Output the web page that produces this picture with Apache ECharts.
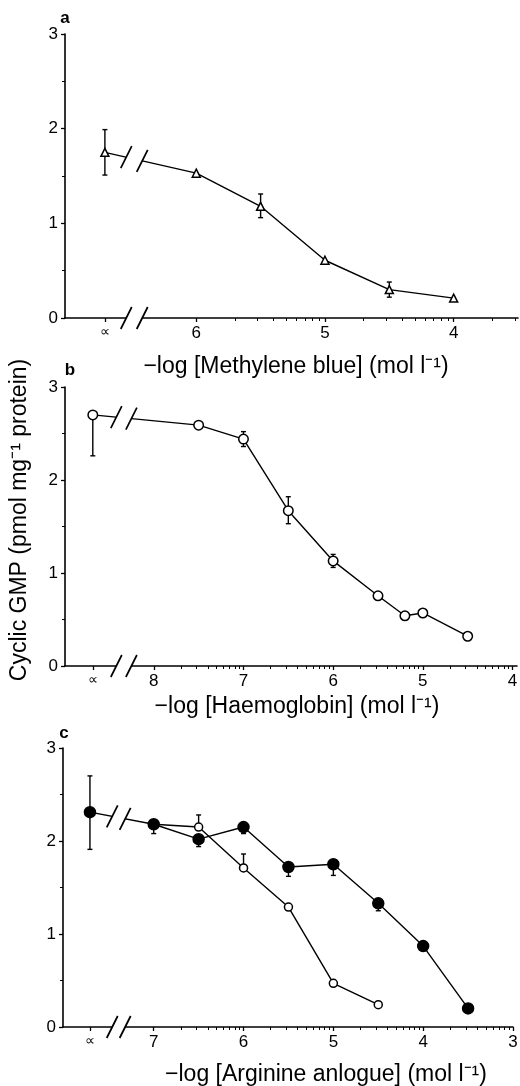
<!DOCTYPE html>
<html>
<head>
<meta charset="utf-8">
<script src="https://cdn.jsdelivr.net/npm/echarts@6/dist/echarts.min.js"></script>
<style>
  html, body { margin: 0; padding: 0; background: #fff; }
  #chart { width: 520px; height: 1086px; }
</style>
</head>
<body>
<div id="chart"></div>
<script>
// x position used for the "∝" (control) point in each panel
const ctrlA = 6.71;
const ctrlB = 8.68;
const ctrlC = 7.71;

// a: methylene blue
const mbX = [ctrlA, 6, 5.5, 5, 4.5, 4];
const mbY = [1.75, 1.53, 1.18, 0.61, 0.30, 0.21];
const mbErr = [[1.51, 1.99], null, [1.06, 1.31], null, [0.22, 0.38], null];

// b: haemoglobin
const hbX = [ctrlB, 7.5, 7, 6.5, 6, 5.5, 5.2, 5, 4.5];
const hbY = [2.70, 2.59, 2.44, 1.67, 1.13, 0.755, 0.54, 0.57, 0.32];
const hbErr = [[2.26, 2.70], null, [2.36, 2.52], [1.53, 1.82], [1.06, 1.20], null, null, null, null];

// c: arginine analogues (filled and open)
const argFX = [ctrlC, 7, 6.5, 6, 5.5, 5, 4.5, 4, 3.5];
const argFY = [2.31, 2.18, 2.02, 2.15, 1.72, 1.75, 1.33, 0.87, 0.20];
const argFErr = [[1.91, 2.70], [2.08, 2.18], [1.94, 2.02], [2.08, 2.15], [1.62, 1.72], [1.63, 1.75], [1.25, 1.33], null, null];
const argOX = [7, 6.5, 6, 5.5, 5, 4.5];
const argOY = [2.18, 2.15, 1.71, 1.29, 0.47, 0.24];
const argOErr = [null, [2.15, 2.28], [1.71, 1.86], null, null, null];

// tick labels
const ticksA = [6, 5, 4];
const ticksB = [8, 7, 6, 5, 4];
const ticksC = [7, 6, 5, 4, 3];

const FONT = '"Liberation Sans", Arial, sans-serif';

const panels = [
  { letter: 'a', grid: { left: 65, top: 34, width: 453, height: 284 }, min: 3.5, max: 7.02,
    ticks: ticksA, ctrl: ctrlA, brk: [6.544, 6.42],
    title: '\u2212log [Methylene blue] (mol l\u207B\u00B9)', titleX: 296, titleY: 367, letterPos: [65, 18] },
  { letter: 'b', grid: { left: 65, top: 387, width: 452, height: 279 }, min: 3.95, max: 8.99,
    ticks: ticksB, ctrl: ctrlB, brk: [8.418, 8.25],
    title: '\u2212log [Haemoglobin] (mol l\u207B\u00B9)', titleX: 297, titleY: 707, letterPos: [70, 370] },
  { letter: 'c', grid: { left: 63, top: 748, width: 450, height: 279 }, min: 3, max: 8.01,
    ticks: ticksC, ctrl: ctrlC, brk: [7.462, 7.318],
    title: '\u2212log [Arginine anlogue] (mol l\u207B\u00B9)', titleX: 326, titleY: 1075, letterPos: [64, 733] }
];

function minorTicks(p) {
  const out = [];
  p.ticks.forEach(function (m) {
    for (let k = 2; k <= 9; k++) {
      const v = m - Math.log10(k);
      if (v >= p.min) out.push(v);
    }
  });
  return out;
}

const grids = [], xAxes = [], yAxes = [], series = [], graphics = [];

panels.forEach(function (p, i) {
  grids.push(Object.assign({ outerBoundsMode: 'none', containLabel: false }, p.grid));
  xAxes.push({
    type: 'value', gridIndex: i, position: 'bottom', inverse: true, min: p.min, max: p.max,
    splitLine: { show: false },
    axisLine: { lineStyle: { color: '#000', width: 1.6 } },
    axisTick: { length: 4, lineStyle: { color: '#000', width: 1.3 }, customValues: [p.ctrl].concat(p.ticks) },
    axisLabel: {
      customValues: [p.ctrl].concat(p.ticks), margin: 7,
      color: '#000', fontSize: 17, fontFamily: FONT,
      formatter: function (v) { return Math.abs(v - p.ctrl) < 1e-6 ? '{s|\u221D}' : String(v); },
      rich: { s: { fontSize: 14, fontFamily: FONT, color: '#000' } }
    }
  });
  xAxes.push({
    type: 'value', gridIndex: i, position: 'bottom', inverse: true, min: p.min, max: p.max,
    splitLine: { show: false }, axisLine: { show: false }, axisLabel: { show: false },
    axisTick: { length: 3, lineStyle: { color: '#000', width: 1 }, customValues: minorTicks(p) }
  });
  yAxes.push({
    type: 'value', gridIndex: i, min: 0, max: 3, interval: 1,
    splitLine: { show: false },
    axisLine: { show: true, lineStyle: { color: '#000', width: 1.6 } },
    axisTick: { show: true, length: 4, lineStyle: { color: '#000', width: 1.3 } },
    minorTick: { show: true, splitNumber: 2, length: 3, lineStyle: { color: '#000', width: 1 } },
    axisLabel: { color: '#000', fontSize: 17, fontFamily: FONT, margin: 7 }
  });
  graphics.push({
    type: 'text', x: p.titleX, y: p.titleY,
    style: { text: p.title, font: '23px ' + FONT, fill: '#000', align: 'center', verticalAlign: 'middle' }
  });
  graphics.push({
    type: 'text', x: p.letterPos[0], y: p.letterPos[1],
    style: { text: p.letter, font: 'bold 17px ' + FONT, fill: '#000', align: 'center', verticalAlign: 'middle' }
  });
});

function zip(xs, ys) { return xs.map(function (x, k) { return [x, ys[k]]; }); }
function errData(xs, errs) {
  const out = [];
  errs.forEach(function (e, k) { if (e) out.push([xs[k], e[0], e[1]]); });
  return out;
}

function lineSeries(i, xs, ys, symbol, size, fill, z) {
  return {
    type: 'line', xAxisIndex: 2 * i, yAxisIndex: i, data: zip(xs, ys),
    symbol: symbol, symbolSize: size, showAllSymbol: true, z: z || 3,
    lineStyle: { color: '#000', width: 1.4 },
    itemStyle: { color: fill, borderColor: '#000', borderWidth: 1.5 },
    emphasis: { disabled: true }, animation: false
  };
}

function errSeries(i, data) {
  return {
    type: 'custom', xAxisIndex: 2 * i, yAxisIndex: i, data: data, z: 2, animation: false,
    renderItem: function (params, api) {
      const lo = api.coord([api.value(0), api.value(1)]);
      const hi = api.coord([api.value(0), api.value(2)]);
      const st = { stroke: '#000', lineWidth: 1.4 };
      return { type: 'group', children: [
        { type: 'line', shape: { x1: lo[0], y1: lo[1], x2: hi[0], y2: hi[1] }, style: st },
        { type: 'line', shape: { x1: lo[0] - 2.5, y1: lo[1], x2: lo[0] + 2.5, y2: lo[1] }, style: st },
        { type: 'line', shape: { x1: hi[0] - 2.5, y1: hi[1], x2: hi[0] + 2.5, y2: hi[1] }, style: st }
      ] };
    }
  };
}

// break marks "//" on the x axis and on the line from the control point
function breakSeries(i, p, xs, ys) {
  return {
    type: 'custom', xAxisIndex: 2 * i, yAxisIndex: i, clip: false, z: 10, animation: false,
    data: [[p.brk[0], p.brk[1], xs[0], ys[0], xs[1], ys[1]]],
    renderItem: function (params, api) {
      const a = api.coord([api.value(0), 0]);
      const b = api.coord([api.value(1), 0]);
      const p0 = api.coord([api.value(2), api.value(3)]);
      const p1 = api.coord([api.value(4), api.value(5)]);
      const yAt = function (x) { return p0[1] + (p1[1] - p0[1]) * (x - p0[0]) / (p1[0] - p0[0]); };
      const sx = 5.5, sy = 11;
      const children = [];
      [[a[1], a[1]], [yAt(a[0]), yAt(b[0])]].forEach(function (yy) {
        const ya = yy[0], yb = yy[1];
        children.push({ type: 'polygon', shape: { points: [
          [a[0] + sx, ya - sy], [b[0] + sx, yb - sy], [b[0] - sx, yb + sy], [a[0] - sx, ya + sy]
        ] }, style: { fill: '#fff' } });
        children.push({ type: 'line', shape: { x1: a[0] - sx, y1: ya + sy, x2: a[0] + sx, y2: ya - sy },
          style: { stroke: '#000', lineWidth: 1.7 } });
        children.push({ type: 'line', shape: { x1: b[0] - sx, y1: yb + sy, x2: b[0] + sx, y2: yb - sy },
          style: { stroke: '#000', lineWidth: 1.7 } });
      });
      return { type: 'group', children: children };
    }
  };
}

// panel a
series.push(errSeries(0, errData(mbX, mbErr)));
series.push(lineSeries(0, mbX, mbY, 'triangle', 8, '#fff'));
series.push(breakSeries(0, panels[0], mbX, mbY));
// panel b
series.push(errSeries(1, errData(hbX, hbErr)));
series.push(lineSeries(1, hbX, hbY, 'circle', 9.5, '#fff'));
series.push(breakSeries(1, panels[1], hbX, hbY));
// panel c
series.push(errSeries(2, errData(argOX, argOErr)));
series.push(errSeries(2, errData(argFX, argFErr)));
series.push(lineSeries(2, argOX, argOY, 'circle', 8, '#fff', 3));
series.push(lineSeries(2, argFX, argFY, 'circle', 11, '#000', 4));
series.push(breakSeries(2, panels[2], argFX, argFY));

graphics.push({
  type: 'text', x: 20, y: 520, rotation: Math.PI / 2,
  style: { text: 'Cyclic GMP (pmol mg\u207B\u00B9 protein)', font: '23px ' + FONT, fill: '#000',
    align: 'center', verticalAlign: 'middle' }
});

const chart = echarts.init(document.getElementById('chart'));
chart.setOption({
  animation: false,
  backgroundColor: '#fff',
  grid: grids,
  xAxis: xAxes,
  yAxis: yAxes,
  series: series,
  graphic: graphics
});
</script>
</body>
</html>
